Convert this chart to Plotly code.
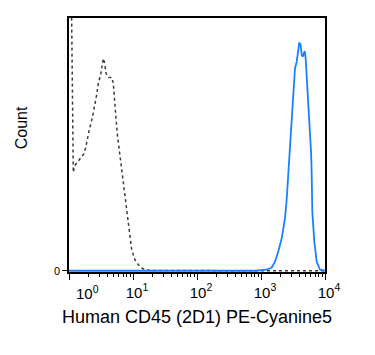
import plotly.graph_objects as go

# Isotype / unstained control (grey dotted), x as log10(fluorescence)
ctrl_log = [0.02, 0.067, 0.089, 0.130, 0.183, 0.234, 0.261, 0.286, 0.313, 0.364, 0.402,
            0.433, 0.458, 0.495, 0.520, 0.536, 0.558, 0.578, 0.614, 0.667, 0.692, 0.703,
            0.730, 0.755, 0.781, 0.808, 0.833, 0.848, 0.875, 0.902, 0.927, 0.953, 0.980,
            1.031, 1.083, 1.136, 1.188, 1.313, 2.0, 3.0, 4.0]
ctrl_cnt = [150, 38.9, 41.6, 42.9, 44.3, 46.3, 48.7, 52.7, 55.3, 60.5, 65.1,
            69.7, 74.2, 77.5, 81.5, 84.0, 82.1, 78.2, 76.5, 76.5, 74.2, 69.7,
            61.8, 54.0, 48.7, 43.5, 37.0, 33.1, 27.8, 22.6, 17.4, 12.2, 8.2,
            4.3, 2.4, 1.1, 0.4, 0.1, 0, 0, 0]

# CD45 stained sample (blue)
cd45_log = [0.0, 1.0, 2.0, 2.906, 3.089, 3.167, 3.219, 3.270, 3.323, 3.375, 3.402, 3.427,
            3.453, 3.480, 3.505, 3.531, 3.558, 3.583, 3.598, 3.620, 3.636, 3.652,
            3.667, 3.683, 3.698, 3.714, 3.739, 3.766, 3.781, 3.789, 3.802, 3.833,
            3.870, 3.922, 3.973, 4.0]
cd45_cnt = [0, 0, 0, 0, 0.4, 1.3, 3.6, 7.6, 12.8, 20.7, 28.5, 38.9,
            49.4, 59.2, 71.0, 80.1, 82.7, 88.0, 90.3, 89.3, 85.4, 84.7,
            86.0, 86.9, 84.0, 77.5, 68.4, 57.9, 47.5, 41.6, 23.3, 11.5,
            3.6, 0.4, 0, 0]

major_vals = [1, 10, 100, 1000, 10000]
major_text = ["", "10<sup>1</sup>", "10<sup>2</sup>", "10<sup>3</sup>", "10<sup>4</sup>"]
first_label = "10<sup>0</sup>"
minor_vals = [m * d for d in [1, 10, 100, 1000] for m in range(2, 10)]

x_title = "Human CD45 (2D1) PE-Cyanine5"
y_title = "Count"

FONT = "Liberation Sans, Arial, sans-serif"

fig = go.Figure()
fig.add_trace(go.Scatter(
    x=[10 ** v for v in ctrl_log], y=ctrl_cnt, mode="lines",
    line=dict(color="#3a3a3a", width=1.5, dash="dot"), hoverinfo="skip"))
fig.add_trace(go.Scatter(
    x=[10 ** v for v in cd45_log], y=cd45_cnt, mode="lines",
    line=dict(color="#1a80ff", width=1.8), hoverinfo="skip"))

fig.update_layout(
    width=367, height=347,
    margin=dict(l=61, r=50, t=8, b=83),
    paper_bgcolor="white", plot_bgcolor="white",
    showlegend=False,
    font=dict(family=FONT, color="black"),
    xaxis=dict(
        type="log", range=[0, 4], showgrid=False, zeroline=False,
        showline=True, linecolor="black", linewidth=1.5, mirror=True,
        ticks="outside", ticklen=6, tickwidth=1.2, tickcolor="black",
        tickmode="array", tickvals=major_vals, ticktext=major_text,
        tickfont=dict(size=15, family=FONT), ticklabelshift=4,
        minor=dict(tickmode="array", tickvals=minor_vals, ticks="outside",
                   ticklen=3, tickwidth=1, tickcolor="black"),
    ),
    yaxis=dict(
        range=[-0.5, 100], showgrid=False, zeroline=False,
        showline=True, linecolor="black", linewidth=1.5, mirror=True,
        ticks="outside", ticklen=5, tickwidth=1, tickcolor="black",
        tickmode="array", tickvals=[0], ticktext=["0"],
        tickfont=dict(size=11, family=FONT),
    ),
    annotations=[
        dict(text=first_label, xref="x", yref="paper", x=0, y=0,
             xanchor="left", yanchor="top", xshift=5, yshift=-9, showarrow=False,
             font=dict(size=15, family=FONT, color="black")),
        dict(text=x_title, xref="paper", yref="paper", x=0.5, y=-0.178,
             xanchor="center", yanchor="middle", showarrow=False,
             font=dict(size=18, family=FONT, color="black")),
        dict(text=y_title, xref="paper", yref="paper", x=-0.1875, y=0.566,
             xanchor="center", yanchor="middle", showarrow=False, textangle=-90,
             font=dict(size=16, family=FONT, color="black")),
    ],
)

fig.write_html("out.html")
